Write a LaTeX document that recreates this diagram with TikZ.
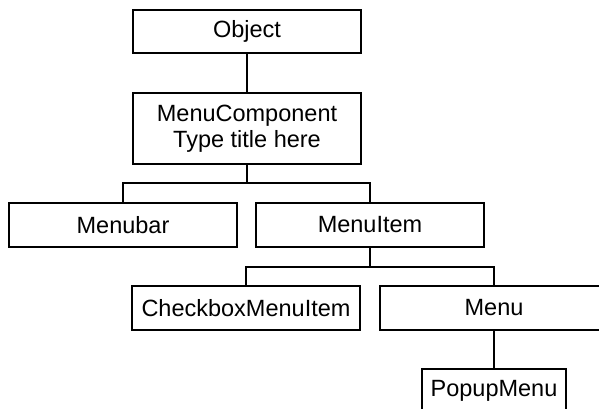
\documentclass[tikz,border=0pt]{standalone}
\usepackage{fontspec}
\setmainfont{Liberation Sans}
\begin{document}
\begin{tikzpicture}[x=1pt,y=-1pt,
  cls/.style={draw=black,line width=1.3pt,minimum width=228pt,minimum height=44pt,inner sep=0pt,align=center,font=\fontsize{23.5}{26}\selectfont},
  link/.style={draw=black,line width=1.3pt}]
\clip (0,0) rectangle (599,408);
\fill[white] (0,0) rectangle (599,408);
\node[cls,minimum height=43pt] (obj) at (247,31.5) {Object};
\node[cls,minimum height=71pt] (mc) at (247,128.5) {MenuComponent\\Type title here};
\node[cls] (bar) at (123,225) {Menubar};
\node[cls] (item) at (370,225) {MenuItem};
\node[cls] (check) at (246,308) {CheckboxMenuItem};
\node[cls] (menu) at (494,308) {Menu};
\node[cls,minimum width=144pt] (popup) at (494,391) {PopupMenu};
\coordinate (b1) at (247,183);
\coordinate (b2) at (370,267);
\draw[link] (obj.south) -- (mc.north);
\draw[link] (mc.south) -- (b1) -| (bar.north);
\draw[link] (b1) -| (item.north);
\draw[link] (item.south) -- (b2) -| (check.north);
\draw[link] (b2) -| (menu.north);
\draw[link] (menu.south) -- (popup.north);
\end{tikzpicture}
\end{document}
